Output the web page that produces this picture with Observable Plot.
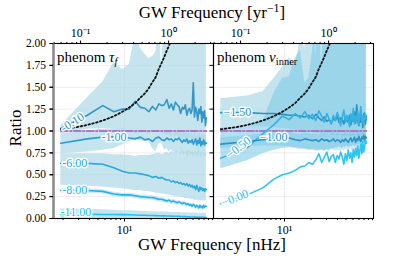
<!DOCTYPE html>
<html><head><meta charset="utf-8">
<script src="https://cdn.jsdelivr.net/npm/d3@7"></script>
<script src="https://cdn.jsdelivr.net/npm/@observablehq/plot@0.6"></script>
<style>
body{margin:0;background:#fff}
#wrap{position:relative;width:415px;height:257px;font-family:"Liberation Serif",serif;color:#000}
.t{position:absolute;white-space:nowrap;line-height:1}
sub{font-size:70%;vertical-align:-0.25em;line-height:0}
sup{font-size:70%;vertical-align:0.5em;line-height:0}
</style></head><body><div id="wrap"></div>
<script>
// ---------- data ----------
const freqNHz = [1.89,3.78,5.67,7.56,9.45,11.34,13.23,15.12,17.01,18.9,20.79,22.68,24.57,26.46,28.35,30.24,32.13,34.02,35.91,37.8,39.69,41.58,43.47,45.36,47.25,49.14,51.03,52.92,54.81,56.7,58.59,60.48,62.37,64.26,66.15,68.04,69.93,71.82,73.71,75.6,77.49,79.38,81.27,83.16,85.05];
const nHzPerYr = 31.69;
const panels = ["tau","nu"];
const yTicks = [0,0.25,0.5,0.75,1,1.25,1.5,1.75,2];
const bottomMajor = [10];
const bottomMajorLabels = ["10¹"];
const bottomMinor = [2,3,4,5,6,7,8,9,20,30,40,50,60,70,80,90,100];
const topMajorYr = [0.1,1];
const topMajorLabels = ["10⁻¹","10⁰"];
const topMinorYr = [0.05,0.06,0.07,0.08,0.09,0.2,0.3,0.4,0.5,0.6,0.7,0.8,0.9,2,3];
const refValue = 1;

// left panel: phenom tau_f
const tauLabels = ["-0.10","-1.00","-6.00","-8.00","-11.00"];
const tauM010 = [1.03,1.18,1.29,1.22,1.25,1.25,1.34,1.27,1.26,1.22,1.28,1.24,1.31,1.29,1.30,1.36,1.26,1.31,1.24,1.33,1.30,1.28,1.20,1.27,1.25,1.30,1.18,1.24,1.26,1.20,1.24,1.55,1.16,1.27,1.22,1.12,1.25,1.20,1.28,1.10,1.22,1.15,1.23,1.06,1.15];
const tauM010hi = [1.06,1.38,1.56,1.78,1.70,1.76,2.1,1.95,1.88,1.83,1.85,1.9,2.3,1.72,2.3,2.3,2.3,2.3,2.3,2.3,2.3,2.3,2.3,2.3,2.3,2.3,2.3,2.3,2.3,2.3,2.3,2.3,2.3,2.3,2.3,2.3,2.3,2.3,2.3,2.3,2.3,2.3,2.3,2.3,2.3];
const tauM010lo = [0.97,1.02,1.03,1.03,1.02,1.0,0.97,0.98,0.98,0.97,0.97,0.99,1.0,0.98,0.96,0.95,0.97,0.93,0.96,0.92,0.95,0.9,0.94,0.88,0.93,0.91,0.86,0.92,0.89,0.94,0.85,0.9,0.78,0.88,0.92,0.84,0.70,0.89,0.8,0.9,0.85,0.75,0.88,0.82,0.86];
const tauM100 = [0.86,0.91,0.93,0.935,0.94,0.92,0.91,0.93,0.90,0.91,0.88,0.92,0.93,0.90,0.89,0.92,0.90,0.91,0.88,0.91,0.90,0.92,0.89,0.87,0.90,0.88,0.91,0.86,0.89,0.87,0.90,0.85,0.88,0.91,0.84,0.89,0.86,0.92,0.83,0.88,0.85,0.90,0.84,0.87,0.86];
const tauM100hi = [0.97,1.0,1.02,1.03,1.03,1.0,0.98,1.0,0.98,0.99,0.97,1.0,1.01,0.99,0.98,1.01,0.99,1.0,0.97,1.0,0.99,1.01,0.98,0.96,0.99,0.97,1.0,0.95,0.98,0.96,0.99,0.94,0.97,1.0,0.93,0.98,0.95,1.01,0.92,0.97,0.94,0.99,0.93,0.96,0.95];
const tauM100lo = [0.74,0.76,0.78,0.80,0.84,0.88,0.90,0.89,0.88,0.88,0.80,0.76,0.85,0.87,0.78,0.80,0.76,0.79,0.75,0.78,0.74,0.77,0.73,0.76,0.72,0.75,0.74,0.70,0.76,0.72,0.74,0.70,0.73,0.75,0.69,0.74,0.70,0.76,0.68,0.73,0.70,0.75,0.69,0.72,0.71];
const tauM600 = [0.63,0.63,0.62,0.58,0.54,0.52,0.52,0.51,0.50,0.49,0.47,0.48,0.46,0.47,0.45,0.44,0.44,0.42,0.43,0.41,0.42,0.40,0.41,0.39,0.40,0.38,0.40,0.37,0.39,0.36,0.38,0.35,0.37,0.33,0.38,0.34,0.31,0.36,0.33,0.35,0.32,0.34,0.31,0.34,0.33];
const tauM600hi = [0.74,0.74,0.74,0.73,0.73,0.72,0.71,0.72,0.72,0.72,0.73,0.74,0.75,0.73,0.74,0.76,0.74,0.77,0.75,0.78,0.76,0.77,0.75,0.78,0.76,0.77,0.75,0.78,0.76,0.77,0.75,0.76,0.74,0.77,0.75,0.76,0.73,0.77,0.74,0.76,0.73,0.76,0.74,0.75,0.74];
const tauM600lo = [0.38,0.37,0.36,0.35,0.34,0.33,0.32,0.32,0.31,0.31,0.30,0.29,0.29,0.28,0.28,0.27,0.27,0.26,0.26,0.25,0.25,0.25,0.24,0.24,0.24,0.23,0.23,0.23,0.22,0.22,0.22,0.22,0.21,0.21,0.21,0.21,0.2,0.21,0.2,0.2,0.2,0.21,0.2,0.2,0.2];
const tauM800 = [0.32,0.32,0.31,0.28,0.27,0.27,0.26,0.25,0.245,0.24,0.24,0.23,0.22,0.22,0.21,0.20,0.21,0.19,0.20,0.19,0.18,0.19,0.18,0.17,0.18,0.17,0.16,0.17,0.15,0.16,0.14,0.16,0.15,0.13,0.15,0.14,0.12,0.15,0.13,0.14,0.12,0.15,0.13,0.14,0.14];
const tauM800hi = [0.34,0.34,0.33,0.30,0.29,0.29,0.28,0.27,0.27,0.26,0.26,0.25,0.24,0.24,0.23,0.22,0.23,0.21,0.22,0.21,0.20,0.21,0.20,0.19,0.20,0.19,0.18,0.19,0.17,0.18,0.16,0.18,0.17,0.15,0.17,0.16,0.14,0.17,0.15,0.16,0.14,0.17,0.15,0.16,0.16];
const tauM800lo = [0.29,0.29,0.28,0.25,0.24,0.24,0.23,0.22,0.21,0.21,0.21,0.20,0.19,0.19,0.18,0.17,0.18,0.16,0.17,0.16,0.15,0.16,0.15,0.14,0.15,0.14,0.13,0.14,0.12,0.13,0.11,0.13,0.12,0.10,0.12,0.11,0.09,0.12,0.10,0.11,0.09,0.12,0.10,0.11,0.11];
const tauM1100 = [0.05,0.048,0.046,0.045,0.044,0.042,0.04,0.038,0.037,0.035,0.034,0.033,0.032,0.03,0.03,0.029,0.028,0.027,0.026,0.025,0.025,0.024,0.023,0.022,0.022,0.021,0.02,0.02,0.019,0.018,0.018,0.017,0.017,0.016,0.016,0.015,0.015,0.014,0.014,0.014,0.013,0.013,0.013,0.012,0.012];
const tauM1100hi = [0.11,0.105,0.10,0.095,0.09,0.088,0.085,0.083,0.08,0.078,0.077,0.076,0.075,0.074,0.073,0.072,0.071,0.07,0.07,0.069,0.068,0.068,0.067,0.067,0.066,0.066,0.065,0.065,0.064,0.064,0.063,0.063,0.062,0.062,0.061,0.061,0.06,0.06,0.06,0.06,0.06,0.06,0.06,0.06,0.06];
const tauM1100lo = [0,0,0,0,0,0,0,0,0,0,0,0,0,0,0,0,0,0,0,0,0,0,0,0,0,0,0,0,0,0,0,0,0,0,0,0,0,0,0,0,0,0,0,0,0];

// right panel: phenom nu_inner
const nuLabels = ["−1.50","−0.50","−1.00","−0.00"];
const nuM150 = [1.21,1.21,1.20,1.20,1.19,1.18,1.18,1.17,1.16,1.18,1.14,1.19,1.15,1.12,1.16,1.11,1.13,1.09,1.14,1.12,1.17,1.10,1.15,1.13,1.08,1.16,1.12,1.10,1.18,1.07,1.14,1.11,1.22,1.09,1.30,1.12,1.06,1.19,1.10,1.15,1.04,1.20,1.12,1.08,1.16];
const nuM150hi = [1.37,1.40,1.45,1.60,1.73,1.84,1.75,2.05,1.95,2.3,2.3,1.85,2.3,2.3,2.3,2.3,2.3,2.3,2.3,2.3,2.3,2.3,2.3,2.3,2.3,2.3,2.3,2.3,2.3,2.3,2.3,2.3,2.3,2.3,2.3,2.3,2.3,2.3,2.3,2.3,2.3,2.3,2.3,2.3,2.3];
const nuM150lo = [1.04,1.05,1.05,1.04,1.03,1.02,1.01,1.0,1.0,0.99,0.98,0.98,0.97,0.97,0.96,0.96,0.96,0.95,0.96,0.95,0.95,0.95,0.94,0.95,0.94,0.95,0.94,0.94,0.95,0.93,0.94,0.94,0.95,0.93,0.96,0.94,0.93,0.95,0.94,0.95,0.92,0.95,0.94,0.93,0.95];
const nuM050 = [0.69,0.81,0.97,1.07,1.17,1.13,1.20,1.15,1.22,1.14,1.19,1.12,1.23,1.17,1.10,1.20,1.14,1.08,1.18,1.12,1.21,1.15,1.06,1.16,1.24,1.10,1.18,1.13,1.05,1.20,1.11,1.26,1.08,1.17,1.13,1.22,1.07,1.19,1.28,1.10,1.17,1.05,1.21,1.14,1.18];
const nuM050hi = [1.04,1.05,1.10,1.43,1.60,1.62,1.83,1.92,1.55,1.60,1.90,2.3,2.3,1.75,2.3,2.3,1.95,2.3,2.3,2.3,2.3,2.3,2.3,2.3,2.3,2.3,2.3,2.3,2.3,2.3,2.3,2.3,2.3,2.3,2.3,2.3,2.3,2.3,2.3,2.3,2.3,2.3,2.3,2.3,2.3];
const nuM050lo = [0.57,0.66,0.74,0.78,0.80,0.81,0.81,0.80,0.79,0.78,0.79,0.77,0.78,0.78,0.77,0.79,0.78,0.80,0.79,0.81,0.80,0.82,0.81,0.80,0.82,0.81,0.83,0.82,0.81,0.83,0.82,0.84,0.83,0.82,0.84,0.83,0.85,0.84,0.83,0.85,0.84,0.86,0.85,0.86,0.86];
const nuM100 = [0.85,0.88,0.90,0.91,0.92,0.92,0.90,0.89,0.91,0.90,0.89,0.90,0.88,0.91,0.89,0.90,0.88,0.89,0.91,0.88,0.90,0.89,0.87,0.90,0.88,0.91,0.89,0.87,0.90,0.92,0.88,0.90,0.93,0.87,0.91,0.89,0.94,0.90,0.88,0.93,0.91,0.95,0.89,0.94,0.92];
const nuM100hi = [0.92,0.95,0.97,0.98,0.99,0.99,0.97,0.96,0.98,0.97,0.96,0.97,0.95,0.98,0.96,0.97,0.95,0.96,0.98,0.95,0.97,0.96,0.94,0.97,0.95,0.98,0.96,0.94,0.97,0.99,0.95,0.97,1.0,0.94,0.98,0.96,1.01,0.97,0.95,1.0,0.98,1.02,0.96,1.01,0.99];
const nuM100lo = [0.80,0.82,0.83,0.83,0.83,0.82,0.80,0.79,0.80,0.79,0.78,0.79,0.77,0.79,0.78,0.78,0.77,0.78,0.79,0.77,0.78,0.78,0.76,0.79,0.77,0.79,0.78,0.76,0.79,0.80,0.77,0.79,0.81,0.77,0.80,0.79,0.82,0.80,0.78,0.82,0.81,0.84,0.80,0.83,0.83];
const nuM000 = [0.17,0.27,0.35,0.45,0.50,0.52,0.55,0.59,0.60,0.64,0.62,0.67,0.74,0.64,0.70,0.76,0.65,0.71,0.73,0.64,0.72,0.68,0.76,0.70,0.62,0.74,0.66,0.78,0.69,0.75,0.64,0.79,0.70,0.80,0.72,0.83,0.69,0.78,0.85,0.74,0.88,0.76,0.82,0.90,0.86];

// dotted reference curve (same in both panels)
const dottedRatio = [1.02,1.07,1.12,1.17,1.22,1.27,1.32,1.38,1.43,1.49,1.56,1.62,1.71,1.78,1.85,1.92,1.98,2.06];

// label anchor positions (frequency nHz, ratio) and rotation
const tauLabelF = [2.56,7.6,2.72,2.72,2.8];
const tauLabelY = [1.10,0.926,0.63,0.32,0.07];
const tauLabelRot = [-32,0,0,0,0];
const nuLabelF = [2.92,3.0,7.5,2.74];
const nuLabelY = [1.21,0.81,0.926,0.234];
const nuLabelRot = [0,-38,0,-22];

// ---------- styling ----------
const tauColors = ["#3596c3","#2a9dd2","#2ba8dc","#27b3e7","#22c0f4"];
const nuColors = ["#2e8fc2","#35b1e4","#2a93c9","#2ec4f4"];
const bandFill = "#add8e6";

// ---------- build tables ----------
const lineRows = [], bandRows = [], labelRows = [];
function addLine(panel, key, vals, color) {
  vals.forEach((v, i) => lineRows.push({panel, key, f: freqNHz[i], v, color}));
}
function addBand(panel, key, lo, hi, fill, op) {
  lo.forEach((l, i) => bandRows.push({panel, key, f: freqNHz[i], lo: l, hi: hi[i], fill, op}));
}
addBand("tau","A",tauM010lo,tauM010hi,bandFill,0.7);
addBand("tau","B",tauM100lo,tauM100hi,bandFill,0.7);
addBand("tau","C",tauM600lo,tauM600hi,bandFill,0.7);
addBand("tau","D",tauM800lo,tauM800hi,bandFill,0.6);
addBand("tau","E",tauM1100lo,tauM1100hi,bandFill,0.7);
addBand("nu","A",nuM150lo,nuM150hi,bandFill,0.7);
addBand("nu","B",nuM050lo,nuM050hi,"#7fcbe8",0.6);
addBand("nu","C",nuM100lo,nuM100hi,"#5ab6de",0.3);

[tauM010,tauM100,tauM600,tauM800,tauM1100].forEach((a,k)=>addLine("tau","t"+k,a,tauColors[k]));
[nuM150,nuM050,nuM100,nuM000].forEach((a,k)=>addLine("nu","n"+k,a,nuColors[k]));

tauLabels.forEach((t,k)=>labelRows.push({panel:"tau",text:t,f:tauLabelF[k],v:tauLabelY[k],rot:tauLabelRot[k],color:tauColors[k]}));
nuLabels.forEach((t,k)=>labelRows.push({panel:"nu",text:t,f:nuLabelF[k],v:nuLabelY[k],rot:nuLabelRot[k],color:nuColors[k]}));

const dottedRows = [], refRows = [];
panels.forEach(p => {
  dottedRatio.forEach((v,i) => dottedRows.push({panel:p, f: freqNHz[i], v}));
  refRows.push({panel:p, f: freqNHz[0], v: refValue}, {panel:p, f: freqNHz[freqNHz.length-1], v: refValue});
});

const xDomain = [1.56, 102.6];
const fontFam = "Liberation Serif, serif";
const topMajorNHz = topMajorYr.map(v => v * nHzPerYr);
const fmtBottom = d => bottomMajorLabels[bottomMajor.findIndex(b => Math.abs(b - d) < 1e-6)] ?? "";
const fmtTop = d => topMajorLabels[topMajorNHz.findIndex(b => Math.abs(b - d) < 1e-6)] ?? "";

const chart = Plot.plot({
  width: 415, height: 257,
  marginLeft: 52, marginRight: 42, marginTop: 43, marginBottom: 39,
  style: {fontFamily: fontFam, background: "white", overflow: "visible"},
  fx: {domain: panels, padding: 0, axis: null},
  x: {type: "log", domain: xDomain},
  y: {domain: [0, 2]},
  color: {type: "identity"},
  marks: [
    Plot.gridY(yTicks, {stroke: "#000", strokeOpacity: 0.07}),
    Plot.gridX(bottomMajor, {stroke: "#000", strokeOpacity: 0.07}),
    Plot.areaY(bandRows, {x: "f", y1: "lo", y2: "hi", z: "key", fx: "panel", fill: "fill", fillOpacity: "op", clip: true}),
    Plot.line(refRows, {x: "f", y: "v", fx: "panel", stroke: "#a97ac6", strokeWidth: 1.9, strokeDasharray: "7,2.2,1.6,2.2"}),
    Plot.line(lineRows, {x: "f", y: "v", z: "key", fx: "panel", stroke: "color", strokeWidth: 1.6, clip: true}),
    Plot.line(dottedRows, {x: "f", y: "v", fx: "panel", stroke: "#111", strokeWidth: 1.8, strokeDasharray: "1.6,2.4", curve: "monotone-x", clip: true}),
    Plot.text(labelRows, {x: "f", y: "v", fx: "panel", text: "text", rotate: "rot", fill: "color", stroke: "white", strokeWidth: 3, fontSize: 12, fontFamily: fontFam}),
    Plot.frame({stroke: "#000", strokeWidth: 1.1}),
    Plot.ruleX([{f: xDomain[0], panel: "tau"}], {x: "f", fx: "panel", stroke: "#8c8c8c", strokeWidth: 2.6}),
    Plot.axisY({anchor: "left", ticks: yTicks, tickFormat: d => d.toFixed(2), tickSize: 3.5, tickPadding: 4, fontSize: 11.5, label: null}),
    Plot.axisY({anchor: "left", facetAnchor: null, ticks: yTicks, tickFormat: () => "", tickSize: 3.5, label: null}),
    Plot.axisX({anchor: "bottom", ticks: bottomMajor, tickFormat: fmtBottom, tickSize: 3.5, tickPadding: 3, fontSize: 12, label: null}),
    Plot.axisX({anchor: "bottom", ticks: bottomMinor, tickFormat: () => "", tickSize: 2, label: null}),
    Plot.axisX({anchor: "top", ticks: topMajorNHz, tickFormat: fmtTop, tickSize: 3.5, tickPadding: 3, fontSize: 12, label: null}),
    Plot.axisX({anchor: "top", ticks: topMinorYr.map(v => v * nHzPerYr), tickFormat: () => "", tickSize: 2, label: null})
  ]
});

const wrap = document.getElementById("wrap");
wrap.appendChild(chart);
function addText(html, css) {
  const d = document.createElement("div");
  d.className = "t";
  d.innerHTML = html;
  Object.assign(d.style, css);
  wrap.appendChild(d);
}
addText("GW Frequency [yr<sup>−1</sup>]", {left: "212px", top: "4px", fontSize: "17px", transform: "translateX(-50%)"});
addText("GW Frequency [nHz]", {left: "212px", top: "236px", fontSize: "17px", transform: "translateX(-50%)"});
addText("Ratio", {left: "15px", top: "128px", fontSize: "17px", transform: "translate(-50%,-50%) rotate(-90deg)"});
addText("phenom <i>τ</i><sub><i>f</i></sub>", {left: "57px", top: "50px", fontSize: "15px"});
addText("phenom <i>ν</i><sub>inner</sub>", {left: "217px", top: "50px", fontSize: "15px"});
</script></body></html>
